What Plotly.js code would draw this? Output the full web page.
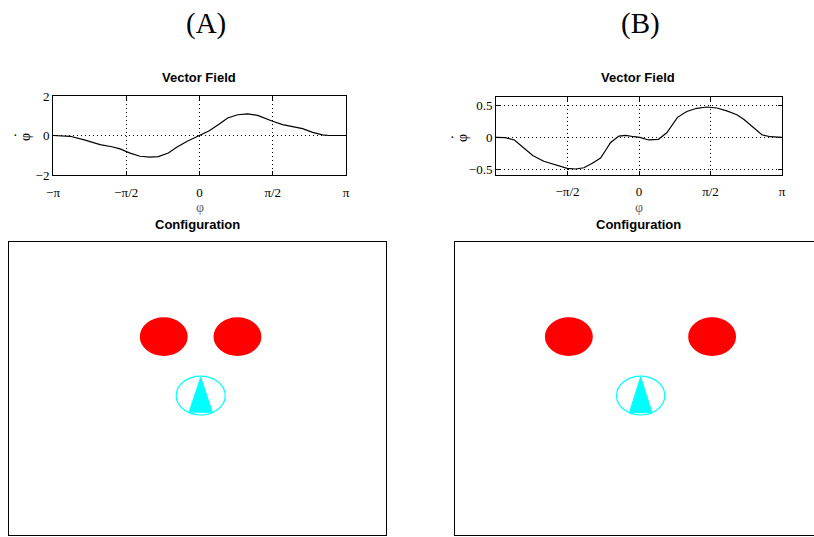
<!DOCTYPE html>
<html>
<head>
<meta charset="utf-8">
<script src="https://cdn.plot.ly/plotly-3.0.1.min.js"></script>
<style>html,body{margin:0;padding:0;background:#fff;overflow:hidden}#chart{width:814px;height:537px}</style>
</head>
<body>
<div id="chart"></div>
<script>
// ---------- data ----------
const PI = Math.PI;
const phiA  = [-PI, -2.774, -2.489, -2.131, -1.881, -1.703, -1.489, -1.275, -1.060, -0.883, -0.668, -0.489, -0.274, -0.075, 0.21, 0.424, 0.604, 0.818, 1.032, 1.247, 1.425, 1.568, 1.782, 1.997, 2.211, 2.425, 2.639, 2.78, PI];
const dphiA = [0, -0.04, -0.21, -0.46, -0.57, -0.68, -0.89, -1.05, -1.10, -1.07, -0.89, -0.60, -0.30, -0.07, 0.24, 0.58, 0.89, 1.05, 1.09, 1.02, 0.85, 0.72, 0.55, 0.45, 0.35, 0.16, 0.03, 0, 0];
const phiB  = [-PI, -2.936, -2.738, -2.533, -2.335, -2.093, -1.835, -1.577, -1.394, -1.211, -1.026, -0.844, -0.733, -0.623, -0.441, -0.293, -0.11, 0.02, 0.207, 0.427, 0.61, 0.72, 0.846, 1.05, 1.27, 1.49, 1.71, 1.93, 2.15, 2.30, 2.48, 2.70, 2.885, PI];
const dphiB = [0, -0.005, -0.04, -0.16, -0.28, -0.37, -0.43, -0.48, -0.49, -0.47, -0.40, -0.32, -0.20, -0.08, 0.02, 0.03, 0.01, 0, -0.04, -0.03, 0.07, 0.19, 0.31, 0.40, 0.45, 0.47, 0.455, 0.41, 0.35, 0.28, 0.17, 0.04, 0.01, 0];

const xTickValsA = [-PI, -PI/2, 0, PI/2, PI];
const xTickTextA = ['\u2212\u03c0', '\u2212\u03c0/2', '0', '\u03c0/2', '\u03c0'];
const xTickValsB = [-PI/2, 0, PI/2, PI];
const xTickTextB = ['\u2212\u03c0/2', '0', '\u03c0/2', '\u03c0'];
const yTickValsA = [-2, 0, 2];
const yTickTextA = ['\u22122', '0', '2'];
const yTickValsB = [-0.5, 0, 0.5];
const yTickTextB = ['\u22120.5', '0', '0.5'];

// configuration: lights (red) and vehicle (cyan) in arena units
const lightXA = [-0.179, 0.212];
const lightYA = [0.354, 0.354];
const lightXB = [-0.396, 0.364];
const lightYB = [0.354, 0.354];
const lightRx = [0.127, 0.127];
const lightRy = [0.132, 0.132];
const bodyA = {x: 0.017, y: -0.048, rx: 0.130, ry: 0.133};
const bodyB = {x: -0.015, y: -0.048, rx: 0.128, ry: 0.133};
const noseA = {x: [0.017, -0.045, 0.079, 0.017], y: [0.076, -0.162, -0.162, 0.076]};
const noseB = {x: [-0.015, -0.075, 0.045, -0.015], y: [0.079, -0.165, -0.165, 0.079]};

// ---------- layout helpers ----------
const W = 814, H = 537;
const px = v => v / W;
const py = v => 1 - v / H;

const serif = 'Liberation Serif, Times New Roman, serif';
const sans = 'Liberation Sans, Arial, sans-serif';

function plotAxis(domain, range, tv, tt) {
  return {
    domain: domain, range: range, tickmode: 'array', tickvals: tv, ticktext: tt,
    showgrid: true, gridcolor: '#000', griddash: '1px,3px', gridwidth: 1,
    ticks: 'inside', ticklen: 4, tickcolor: '#000', tickwidth: 1,
    showline: true, mirror: 'ticks', linecolor: '#000', linewidth: 1,
    zeroline: false, fixedrange: true,
    tickfont: {family: serif, size: 13, color: '#000'}
  };
}
function blankAxis(domain, range) {
  return {domain: domain, range: range, showgrid: false, zeroline: false,
    showticklabels: false, ticks: '', showline: true, mirror: true,
    linecolor: '#000', linewidth: 1, fixedrange: true};
}

const traces = [
  {x: phiA, y: dphiA, xaxis: 'x', yaxis: 'y', mode: 'lines', line: {color: '#000', width: 1.2}, hoverinfo: 'skip'},
  {x: phiB, y: dphiB, xaxis: 'x2', yaxis: 'y2', mode: 'lines', line: {color: '#000', width: 1.2}, hoverinfo: 'skip'},
  {x: noseA.x, y: noseA.y, xaxis: 'x3', yaxis: 'y3', mode: 'lines', fill: 'toself', fillcolor: '#00ffff', line: {color: '#00ffff', width: 1}, hoverinfo: 'skip'},
  {x: noseB.x, y: noseB.y, xaxis: 'x4', yaxis: 'y4', mode: 'lines', fill: 'toself', fillcolor: '#00ffff', line: {color: '#00ffff', width: 1}, hoverinfo: 'skip'}
];

const shapes = [];
function addLights(xs, ys, xr, yr) {
  for (let i = 0; i < xs.length; i++) {
    shapes.push({type: 'circle', xref: xr, yref: yr,
      x0: xs[i] - lightRx[i], x1: xs[i] + lightRx[i],
      y0: ys[i] - lightRy[i], y1: ys[i] + lightRy[i],
      fillcolor: '#ff0000', line: {width: 0}});
  }
}
function addBody(b, xr, yr) {
  shapes.push({type: 'circle', xref: xr, yref: yr,
    x0: b.x - b.rx, x1: b.x + b.rx, y0: b.y - b.ry, y1: b.y + b.ry,
    fillcolor: 'rgba(0,0,0,0)', line: {color: '#00ffff', width: 1.2}});
}
addLights(lightXA, lightYA, 'x3', 'y3');
addLights(lightXB, lightYB, 'x4', 'y4');
addBody(bodyA, 'x3', 'y3');
addBody(bodyB, 'x4', 'y4');

function ann(text, x, y, font, extra) {
  return Object.assign({text: text, xref: 'paper', yref: 'paper', x: px(x), y: py(y),
    xanchor: 'center', yanchor: 'middle', showarrow: false, font: font}, extra || {});
}
const titleFont = {family: sans, size: 13, color: '#000'};
const bigFont = {family: serif, size: 29, color: '#000'};
const symFont = {family: serif, size: 14, color: '#000'};

const annotations = [
  ann('(A)', 206, 24, bigFont),
  ann('(B)', 640, 24, bigFont),
  ann('<b>Vector Field</b>', 198.5, 77.5, titleFont),
  ann('<b>Vector Field</b>', 637.5, 77.5, titleFont),
  ann('<b>Configuration</b>', 197.5, 224, titleFont),
  ann('<b>Configuration</b>', 638, 224, titleFont),
  ann('\u03c6', 199.5, 207, {family: serif, size: 14, color: '#666'}),
  ann('\u03c6', 638.5, 207, {family: serif, size: 14, color: '#666'}),
  ann('\u00b7', 15.5, 136, symFont),
  ann('\u03c6', 25, 137, symFont, {textangle: -90}),
  ann('\u00b7', 452, 137, symFont),
  ann('\u03c6', 462, 138, symFont, {textangle: -90})
];

const layout = {
  width: W, height: H, margin: {l: 0, r: 0, t: 0, b: 0, pad: 0},
  paper_bgcolor: '#fff', plot_bgcolor: '#fff', showlegend: false,
  xaxis: Object.assign(plotAxis([px(53), px(346)], [-PI, PI], xTickValsA, xTickTextA), {anchor: 'y', ticklabelstandoff: 5}),
  yaxis: Object.assign(plotAxis([py(175), py(96)], [-2, 2], yTickValsA, yTickTextA), {anchor: 'x'}),
  xaxis2: Object.assign(plotAxis([px(496), px(782)], [-PI, PI], xTickValsB, xTickTextB), {anchor: 'y2', ticklabelstandoff: 5}),
  yaxis2: Object.assign(plotAxis([py(174.5), py(97)], [-0.575, 0.625], yTickValsB, yTickTextB), {anchor: 'x2'}),
  xaxis3: Object.assign(blankAxis([px(9), px(386)], [-1, 1]), {anchor: 'y3'}),
  yaxis3: Object.assign(blankAxis([py(535), py(242)], [-1, 1]), {anchor: 'x3'}),
  xaxis4: Object.assign(blankAxis([px(455), 1], [-1, -1 + 359 / 188.5]), {anchor: 'y4'}),
  yaxis4: Object.assign(blankAxis([py(535), py(242)], [-1, 1]), {anchor: 'x4', mirror: false}),
  shapes: shapes,
  annotations: annotations
};

Plotly.newPlot('chart', traces, layout, {staticPlot: true, displayModeBar: false});
</script>
</body>
</html>
